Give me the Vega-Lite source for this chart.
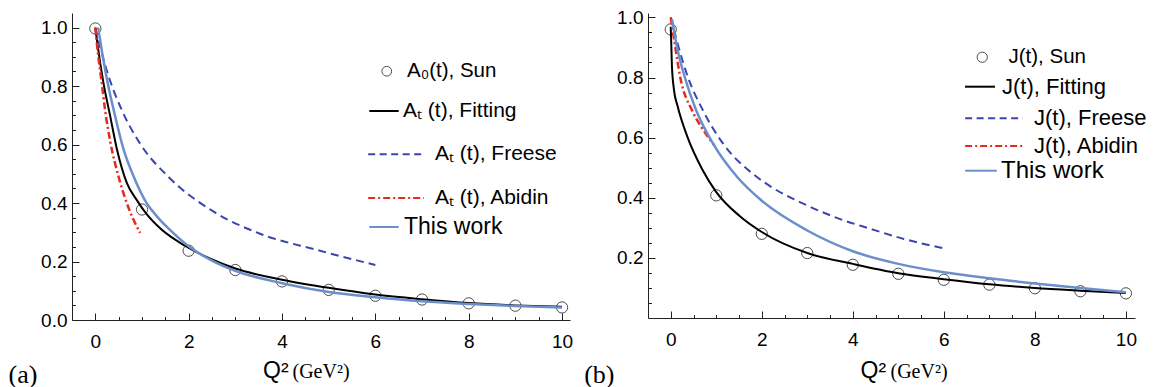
{
  "$schema": "https://vega.github.io/schema/vega-lite/v6.json",
  "padding": {"left": 8, "top": 8, "right": 5, "bottom": 0},
  "bounds": "flush",
  "spacing": 78,
  "config": {
    "view": {"stroke": null},
    "axis": {"grid": false, "domainColor": "#222", "tickColor": "#222", "labelColor": "black", "titleColor": "black", "labelFont": "Liberation Sans", "labelFontSize": 19, "labelFlush": false, "labelOverlap": false, "domainWidth": 1, "tickWidth": 1},
    "legend": {"labelLimit": 0, "labelColor": "black", "padding": 0}
  },
  "datasets": {
    "a": [
      {"s": "A₀(t), Sun", "x": 0, "y": 0.997}, {"s": "A₀(t), Sun", "x": 1, "y": 0.378}, {"s": "A₀(t), Sun", "x": 2, "y": 0.237}, {"s": "A₀(t), Sun", "x": 3, "y": 0.171}, {"s": "A₀(t), Sun", "x": 4, "y": 0.132}, {"s": "A₀(t), Sun", "x": 5, "y": 0.103}, {"s": "A₀(t), Sun", "x": 6, "y": 0.083}, {"s": "A₀(t), Sun", "x": 7, "y": 0.07}, {"s": "A₀(t), Sun", "x": 8, "y": 0.057}, {"s": "A₀(t), Sun", "x": 9, "y": 0.049}, {"s": "A₀(t), Sun", "x": 10, "y": 0.043},
      {"s": "Aₜ (t), Fitting", "x": 0, "y": 1.0}, {"s": "Aₜ (t), Fitting", "x": 0.04, "y": 0.95}, {"s": "Aₜ (t), Fitting", "x": 0.17, "y": 0.814}, {"s": "Aₜ (t), Fitting", "x": 0.315, "y": 0.7}, {"s": "Aₜ (t), Fitting", "x": 0.46, "y": 0.586}, {"s": "Aₜ (t), Fitting", "x": 0.67, "y": 0.471}, {"s": "Aₜ (t), Fitting", "x": 0.91, "y": 0.405}, {"s": "Aₜ (t), Fitting", "x": 1.1, "y": 0.362}, {"s": "Aₜ (t), Fitting", "x": 1.4, "y": 0.312}, {"s": "Aₜ (t), Fitting", "x": 1.92, "y": 0.254}, {"s": "Aₜ (t), Fitting", "x": 2.5, "y": 0.207}, {"s": "Aₜ (t), Fitting", "x": 3, "y": 0.176}, {"s": "Aₜ (t), Fitting", "x": 4, "y": 0.138}, {"s": "Aₜ (t), Fitting", "x": 5, "y": 0.11}, {"s": "Aₜ (t), Fitting", "x": 6, "y": 0.087}, {"s": "Aₜ (t), Fitting", "x": 7, "y": 0.071}, {"s": "Aₜ (t), Fitting", "x": 8, "y": 0.058}, {"s": "Aₜ (t), Fitting", "x": 9, "y": 0.05}, {"s": "Aₜ (t), Fitting", "x": 10, "y": 0.045},
      {"s": "Aₜ (t), Freese", "x": 0, "y": 1.0}, {"s": "Aₜ (t), Freese", "x": 0.1, "y": 0.935}, {"s": "Aₜ (t), Freese", "x": 0.29, "y": 0.831}, {"s": "Aₜ (t), Freese", "x": 0.57, "y": 0.717}, {"s": "Aₜ (t), Freese", "x": 0.96, "y": 0.603}, {"s": "Aₜ (t), Freese", "x": 1.57, "y": 0.489}, {"s": "Aₜ (t), Freese", "x": 2.5, "y": 0.374}, {"s": "Aₜ (t), Freese", "x": 3.53, "y": 0.295}, {"s": "Aₜ (t), Freese", "x": 4.74, "y": 0.24}, {"s": "Aₜ (t), Freese", "x": 6, "y": 0.188},
      {"s": "Aₜ (t), Abidin", "x": 0, "y": 1.0}, {"s": "Aₜ (t), Abidin", "x": 0.05, "y": 0.92}, {"s": "Aₜ (t), Abidin", "x": 0.13, "y": 0.82}, {"s": "Aₜ (t), Abidin", "x": 0.21, "y": 0.717}, {"s": "Aₜ (t), Abidin", "x": 0.32, "y": 0.61}, {"s": "Aₜ (t), Abidin", "x": 0.5, "y": 0.489}, {"s": "Aₜ (t), Abidin", "x": 0.73, "y": 0.376}, {"s": "Aₜ (t), Abidin", "x": 0.96, "y": 0.298},
      {"s": "This work", "x": 0.06, "y": 1.0}, {"s": "This work", "x": 0.14, "y": 0.92}, {"s": "This work", "x": 0.26, "y": 0.814}, {"s": "This work", "x": 0.42, "y": 0.7}, {"s": "This work", "x": 0.6, "y": 0.586}, {"s": "This work", "x": 0.85, "y": 0.48}, {"s": "This work", "x": 1.1, "y": 0.4}, {"s": "This work", "x": 1.3, "y": 0.358}, {"s": "This work", "x": 1.6, "y": 0.308}, {"s": "This work", "x": 2, "y": 0.252}, {"s": "This work", "x": 2.5, "y": 0.203}, {"s": "This work", "x": 3, "y": 0.168}, {"s": "This work", "x": 4, "y": 0.126}, {"s": "This work", "x": 5, "y": 0.096}, {"s": "This work", "x": 6, "y": 0.078}, {"s": "This work", "x": 7, "y": 0.064}, {"s": "This work", "x": 8, "y": 0.055}, {"s": "This work", "x": 9, "y": 0.048}, {"s": "This work", "x": 10, "y": 0.043}
    ],
    "b": [
      {"s": "J(t), Sun", "x": 0, "y": 0.96}, {"s": "J(t), Sun", "x": 1, "y": 0.408}, {"s": "J(t), Sun", "x": 2, "y": 0.28}, {"s": "J(t), Sun", "x": 3, "y": 0.216}, {"s": "J(t), Sun", "x": 4, "y": 0.177}, {"s": "J(t), Sun", "x": 5, "y": 0.147}, {"s": "J(t), Sun", "x": 6, "y": 0.127}, {"s": "J(t), Sun", "x": 7, "y": 0.111}, {"s": "J(t), Sun", "x": 8, "y": 0.099}, {"s": "J(t), Sun", "x": 9, "y": 0.089}, {"s": "J(t), Sun", "x": 10, "y": 0.082},
      {"s": "J(t), Fitting", "x": 0, "y": 0.969}, {"s": "J(t), Fitting", "x": 0.025, "y": 0.84}, {"s": "J(t), Fitting", "x": 0.07, "y": 0.76}, {"s": "J(t), Fitting", "x": 0.15, "y": 0.705}, {"s": "J(t), Fitting", "x": 0.36, "y": 0.605}, {"s": "J(t), Fitting", "x": 0.69, "y": 0.495}, {"s": "J(t), Fitting", "x": 1, "y": 0.419}, {"s": "J(t), Fitting", "x": 1.5, "y": 0.341}, {"s": "J(t), Fitting", "x": 2, "y": 0.286}, {"s": "J(t), Fitting", "x": 3, "y": 0.216}, {"s": "J(t), Fitting", "x": 4, "y": 0.18}, {"s": "J(t), Fitting", "x": 5, "y": 0.149}, {"s": "J(t), Fitting", "x": 6, "y": 0.129}, {"s": "J(t), Fitting", "x": 7, "y": 0.112}, {"s": "J(t), Fitting", "x": 8, "y": 0.1}, {"s": "J(t), Fitting", "x": 9, "y": 0.091}, {"s": "J(t), Fitting", "x": 10, "y": 0.083},
      {"s": "J(t), Freese", "x": 0, "y": 1.0}, {"s": "J(t), Freese", "x": 0.15, "y": 0.913}, {"s": "J(t), Freese", "x": 0.38, "y": 0.8}, {"s": "J(t), Freese", "x": 0.71, "y": 0.69}, {"s": "J(t), Freese", "x": 1.15, "y": 0.58}, {"s": "J(t), Freese", "x": 1.8, "y": 0.48}, {"s": "J(t), Freese", "x": 2.22, "y": 0.435}, {"s": "J(t), Freese", "x": 2.99, "y": 0.375}, {"s": "J(t), Freese", "x": 3.65, "y": 0.333}, {"s": "J(t), Freese", "x": 4.38, "y": 0.297}, {"s": "J(t), Freese", "x": 5.12, "y": 0.263}, {"s": "J(t), Freese", "x": 6, "y": 0.232},
      {"s": "J(t), Abidin", "x": 0, "y": 1.0}, {"s": "J(t), Abidin", "x": 0.09, "y": 0.91}, {"s": "J(t), Abidin", "x": 0.21, "y": 0.8}, {"s": "J(t), Abidin", "x": 0.47, "y": 0.69}, {"s": "J(t), Abidin", "x": 0.67, "y": 0.636}, {"s": "J(t), Abidin", "x": 0.96, "y": 0.574},
      {"s": "This work", "x": 0.03, "y": 0.993}, {"s": "This work", "x": 0.12, "y": 0.913}, {"s": "This work", "x": 0.31, "y": 0.8}, {"s": "This work", "x": 0.56, "y": 0.69}, {"s": "This work", "x": 0.93, "y": 0.58}, {"s": "This work", "x": 1.46, "y": 0.469}, {"s": "This work", "x": 2, "y": 0.39}, {"s": "This work", "x": 3, "y": 0.291}, {"s": "This work", "x": 4, "y": 0.222}, {"s": "This work", "x": 5, "y": 0.18}, {"s": "This work", "x": 6, "y": 0.152}, {"s": "This work", "x": 7, "y": 0.132}, {"s": "This work", "x": 8, "y": 0.115}, {"s": "This work", "x": 9, "y": 0.1}, {"s": "This work", "x": 10, "y": 0.086}
    ]
  },
  "hconcat": [
    {
      "width": 498, "height": 307,
      "data": {"name": "a"},
      "resolve": {"scale": {"color": "independent"}, "legend": {"color": "independent"}, "axis": {"x": "independent", "y": "independent"}},
      "layer": [
        {
          "transform": [{"filter": "datum.s === 'A₀(t), Sun'"}],
          "mark": {"type": "point", "shape": "circle", "filled": false, "size": 127, "strokeWidth": 1},
          "encoding": {
            "x": {"field": "x", "type": "quantitative", "scale": {"domain": [-0.5, 10.17], "nice": false, "zero": false},
              "axis": {"values": [0, 2, 4, 6, 8, 10], "tickSize": -7, "labelPadding": 19, "title": "Q²", "titleFont": "Liberation Sans", "titleFontSize": 23, "titleFontWeight": "normal", "titleX": 190.6, "titleY": 57.7, "titleAlign": "left", "titleBaseline": "alphabetic", "titleAnchor": null}},
            "y": {"field": "y", "type": "quantitative", "scale": {"domain": [0, 1.05], "nice": false, "zero": false},
              "axis": {"values": [0, 0.2, 0.4, 0.6, 0.8, 1.0], "format": ".1f", "tickSize": -7, "labelPadding": 12, "title": null}},
            "color": {"field": "s", "type": "nominal", "scale": {"range": ["black"]},
              "legend": {"orient": "none", "legendX": 304.5, "legendY": 48, "title": null, "symbolType": "circle", "symbolSize": 95, "symbolStrokeWidth": 1, "labelFont": "Liberation Sans", "labelFontSize": 20.5, "labelOffset": 10}}
          }
        },
        {
          "transform": [{"filter": "datum.s === 'Aₜ (t), Fitting'"}],
          "mark": {"type": "line", "strokeWidth": 2, "interpolate": "monotone"},
          "encoding": {
            "x": {"field": "x", "type": "quantitative",
              "axis": {"orient": "bottom", "values": [0.5, 1, 1.5, 2.5, 3, 3.5, 4.5, 5, 5.5, 6.5, 7, 7.5, 8.5, 9, 9.5], "tickSize": -3.5, "labels": false, "domain": false, "title": "(GeV²)", "titleFont": "Liberation Serif", "titleFontSize": 20, "titleFontWeight": "normal", "titleX": 220, "titleY": 57.7, "titleAlign": "left", "titleBaseline": "alphabetic", "titleAnchor": null}},
            "y": {"field": "y", "type": "quantitative",
              "axis": {"orient": "left", "values": [0.05, 0.1, 0.15, 0.25, 0.3, 0.35, 0.45, 0.5, 0.55, 0.65, 0.7, 0.75, 0.85, 0.9, 0.95], "tickSize": -3.5, "labels": false, "domain": false, "title": "(a)", "titleFont": "Liberation Serif", "titleFontSize": 26, "titleFontWeight": "normal", "titleAngle": 0, "titleX": -64, "titleY": 369.7, "titleAlign": "left", "titleBaseline": "alphabetic", "titleAnchor": null}},
            "color": {"field": "s", "type": "nominal", "scale": {"range": ["black"]},
              "legend": {"orient": "none", "legendX": 296, "legendY": 82, "title": null, "symbolType": "stroke", "symbolSize": 860, "symbolStrokeWidth": 2, "labelFont": "Liberation Sans", "labelFontSize": 21, "labelOffset": 3}}
          }
        },
        {
          "transform": [{"filter": "datum.s === 'Aₜ (t), Freese'"}],
          "mark": {"type": "line", "strokeWidth": 2, "strokeDash": [8, 5], "interpolate": "monotone"},
          "encoding": {
            "x": {"field": "x", "type": "quantitative", "axis": null},
            "y": {"field": "y", "type": "quantitative", "axis": null},
            "color": {"field": "s", "type": "nominal", "scale": {"range": ["#3a45ae"]},
              "legend": {"orient": "none", "legendX": 295, "legendY": 112.3, "title": null, "symbolType": "stroke", "symbolSize": 3100, "symbolStrokeWidth": 2, "symbolDash": [7, 4.5], "labelFont": "Liberation Sans", "labelFontSize": 21, "labelOffset": 10}}
          }
        },
        {
          "transform": [{"filter": "datum.s === 'Aₜ (t), Abidin'"}],
          "mark": {"type": "line", "strokeWidth": 2.5, "strokeDash": [7, 3, 2, 3], "interpolate": "monotone"},
          "encoding": {
            "x": {"field": "x", "type": "quantitative", "axis": null},
            "y": {"field": "y", "type": "quantitative", "axis": null},
            "color": {"field": "s", "type": "nominal", "scale": {"range": ["#e8291c"]},
              "legend": {"orient": "none", "legendX": 295, "legendY": 156, "title": null, "symbolType": "stroke", "symbolSize": 3100, "symbolStrokeWidth": 2, "symbolDash": [7, 3, 2, 3], "labelFont": "Liberation Sans", "labelFontSize": 21, "labelOffset": 10}}
          }
        },
        {
          "transform": [{"filter": "datum.s === 'This work'"}],
          "mark": {"type": "line", "strokeWidth": 2.5, "interpolate": "monotone"},
          "encoding": {
            "x": {"field": "x", "type": "quantitative", "axis": null},
            "y": {"field": "y", "type": "quantitative", "axis": null},
            "color": {"field": "s", "type": "nominal", "scale": {"range": ["#6b8fca"]},
              "legend": {"orient": "none", "legendX": 296, "legendY": 198, "title": null, "symbolType": "stroke", "symbolSize": 860, "symbolStrokeWidth": 2, "labelFont": "Liberation Sans", "labelFontSize": 23, "labelOffset": 4}}
          }
        }
      ]
    },
    {
      "width": 487, "height": 305,
      "data": {"name": "b"},
      "resolve": {"scale": {"color": "independent"}, "legend": {"color": "independent"}, "axis": {"x": "independent", "y": "independent"}},
      "layer": [
        {
          "transform": [{"filter": "datum.s === 'J(t), Sun'"}],
          "mark": {"type": "point", "shape": "circle", "filled": false, "size": 127, "strokeWidth": 1},
          "encoding": {
            "x": {"field": "x", "type": "quantitative", "scale": {"domain": [-0.5, 10.2], "nice": false, "zero": false},
              "axis": {"values": [0, 2, 4, 6, 8, 10], "tickSize": -7, "labelPadding": 19, "title": "Q²", "titleFont": "Liberation Sans", "titleFontSize": 23, "titleFontWeight": "normal", "titleX": 212, "titleY": 59.7, "titleAlign": "left", "titleBaseline": "alphabetic", "titleAnchor": null}},
            "y": {"field": "y", "type": "quantitative", "scale": {"domain": [0, 1.0146], "nice": false, "zero": false},
              "axis": {"values": [0.2, 0.4, 0.6, 0.8, 1.0], "format": ".1f", "tickSize": -7, "labelPadding": 12, "title": null}},
            "color": {"field": "s", "type": "nominal", "scale": {"range": ["black"]},
              "legend": {"orient": "none", "legendX": 324, "legendY": 34, "title": null, "symbolType": "circle", "symbolSize": 105, "symbolStrokeWidth": 1, "labelFont": "Liberation Sans", "labelFontSize": 20.5, "labelOffset": 16}}
          }
        },
        {
          "transform": [{"filter": "datum.s === 'J(t), Fitting'"}],
          "mark": {"type": "line", "strokeWidth": 2, "interpolate": "monotone"},
          "encoding": {
            "x": {"field": "x", "type": "quantitative",
              "axis": {"orient": "bottom", "values": [0.5, 1, 1.5, 2.5, 3, 3.5, 4.5, 5, 5.5, 6.5, 7, 7.5, 8.5, 9, 9.5], "tickSize": -3.5, "labels": false, "domain": false, "title": "(GeV²)", "titleFont": "Liberation Serif", "titleFontSize": 20, "titleFontWeight": "normal", "titleX": 242, "titleY": 59.7, "titleAlign": "left", "titleBaseline": "alphabetic", "titleAnchor": null}},
            "y": {"field": "y", "type": "quantitative",
              "axis": {"orient": "left", "values": [0.05, 0.1, 0.15, 0.25, 0.3, 0.35, 0.45, 0.5, 0.55, 0.65, 0.7, 0.75, 0.85, 0.9, 0.95], "tickSize": -3.5, "labels": false, "domain": false, "title": "(b)", "titleFont": "Liberation Serif", "titleFontSize": 26, "titleFontWeight": "normal", "titleAngle": 0, "titleX": -64.3, "titleY": 369.7, "titleAlign": "left", "titleBaseline": "alphabetic", "titleAnchor": null}},
            "color": {"field": "s", "type": "nominal", "scale": {"range": ["black"]},
              "legend": {"orient": "none", "legendX": 316, "legendY": 57.7, "title": null, "symbolType": "stroke", "symbolSize": 900, "symbolStrokeWidth": 2, "labelFont": "Liberation Sans", "labelFontSize": 22, "labelOffset": 6}}
          }
        },
        {
          "transform": [{"filter": "datum.s === 'J(t), Freese'"}],
          "mark": {"type": "line", "strokeWidth": 2, "strokeDash": [8, 5], "interpolate": "monotone"},
          "encoding": {
            "x": {"field": "x", "type": "quantitative", "axis": null},
            "y": {"field": "y", "type": "quantitative", "axis": null},
            "color": {"field": "s", "type": "nominal", "scale": {"range": ["#3a45ae"]},
              "legend": {"orient": "none", "legendX": 316, "legendY": 75.3, "title": null, "symbolType": "stroke", "symbolSize": 3330, "symbolStrokeWidth": 2, "symbolDash": [7, 4.5], "labelFont": "Liberation Sans", "labelFontSize": 22, "labelOffset": 10}}
          }
        },
        {
          "transform": [{"filter": "datum.s === 'J(t), Abidin'"}],
          "mark": {"type": "line", "strokeWidth": 2.5, "strokeDash": [7, 3, 2, 3], "interpolate": "monotone"},
          "encoding": {
            "x": {"field": "x", "type": "quantitative", "axis": null},
            "y": {"field": "y", "type": "quantitative", "axis": null},
            "color": {"field": "s", "type": "nominal", "scale": {"range": ["#e8291c"]},
              "legend": {"orient": "none", "legendX": 316, "legendY": 103, "title": null, "symbolType": "stroke", "symbolSize": 3330, "symbolStrokeWidth": 2, "symbolDash": [7, 3, 2, 3], "labelFont": "Liberation Sans", "labelFontSize": 22, "labelOffset": 10}}
          }
        },
        {
          "transform": [{"filter": "datum.s === 'This work'"}],
          "mark": {"type": "line", "strokeWidth": 2.5, "interpolate": "monotone"},
          "encoding": {
            "x": {"field": "x", "type": "quantitative", "axis": null},
            "y": {"field": "y", "type": "quantitative", "axis": null},
            "color": {"field": "s", "type": "nominal", "scale": {"range": ["#6b8fca"]},
              "legend": {"orient": "none", "legendX": 316, "legendY": 140.7, "title": null, "symbolType": "stroke", "symbolSize": 1000, "symbolStrokeWidth": 2, "labelFont": "Liberation Sans", "labelFontSize": 24, "labelOffset": 3}}
          }
        }
      ]
    }
  ]
}
